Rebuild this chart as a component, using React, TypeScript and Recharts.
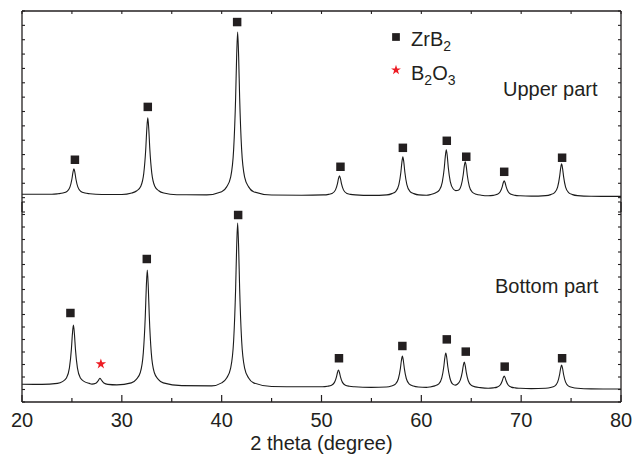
import { ComposedChart, Line, Scatter, XAxis, YAxis, ZAxis, Label, Symbols } from "recharts";

// 2θ positions (deg) and intensities (a.u.)
const UPPER_2THETA = [
  20, 22, 23, 23.6, 24.1, 24.5, 24.8, 25.0, 25.1, 25.2, 25.3, 25.4, 25.6, 25.9, 26.3, 26.8, 28, 30,
  31.0, 31.5, 31.9, 32.2, 32.4, 32.5, 32.6, 32.7, 32.8, 33.0, 33.3, 33.7, 34.2, 35.5, 38.5,
  40.0, 40.5, 40.9, 41.2, 41.4, 41.5, 41.6, 41.7, 41.8, 42.0, 42.3, 42.7, 43.2, 45, 48,
  50.2, 50.7, 51.1, 51.4, 51.6, 51.7, 51.8, 51.9, 52.0, 52.2, 52.5, 52.9, 53.4, 55,
  56.55, 57.05, 57.45, 57.75, 57.95, 58.05, 58.15, 58.25, 58.35, 58.55, 58.85, 59.25, 59.75, 60.5,
  60.9, 61.4, 61.8, 62.1, 62.3, 62.4, 62.5, 62.6, 62.7, 62.9, 63.2, 63.45, 63.7, 64.0, 64.2, 64.3,
  64.4, 64.5, 64.6, 64.8, 65.1, 65.5, 66.0,
  66.7, 67.2, 67.6, 67.9, 68.1, 68.2, 68.3, 68.4, 68.5, 68.7, 69.0, 69.4, 69.9, 71,
  72.45, 72.95, 73.35, 73.65, 73.85, 73.95, 74.05, 74.15, 74.25, 74.45, 74.75, 75.15, 75.65, 77, 80,
];
const UPPER_COUNTS = [
  124, 124, 123.5, 127, 132, 143, 173, 230, 274, 301, 274, 230, 173, 143, 132, 127, 122, 121.5,
  132, 148, 180, 271, 442, 576, 656, 576, 442, 271, 180, 148, 132, 120.5, 119.5,
  141, 175, 243, 436, 800, 1084, 1254, 1084, 800, 436, 243, 175, 141, 118, 117,
  119, 123, 131, 154, 198, 232, 252, 232, 198, 154, 131, 123, 119, 115.5,
  119, 128, 144, 190, 277, 344, 385, 344, 277, 190, 144, 128, 119, 117,
  121, 132, 152, 208, 308, 386, 433, 388, 310, 212, 160, 149, 151, 187, 261, 319,
  350, 318, 258, 181, 138, 124, 117,
  113, 116, 123, 141, 175, 202, 218, 202, 175, 141, 123, 116, 113, 110.5,
  114, 121, 135, 173, 246, 302, 336, 302, 246, 173, 135, 121, 114, 109.5, 108.5,
];

// lower pattern
const LOWER_2THETA = [
  20, 22, 23.55, 24.05, 24.45, 24.75, 24.95, 25.05, 25.15, 25.25, 25.35, 25.55, 25.85, 26.25, 26.75,
  27.0, 27.4, 27.65, 27.8, 27.95, 28.2, 28.6, 29.5,
  30.95, 31.45, 31.85, 32.15, 32.35, 32.45, 32.55, 32.65, 32.75, 32.95, 33.25, 33.65, 34.15, 36, 39,
  40.0, 40.5, 40.9, 41.2, 41.4, 41.5, 41.6, 41.7, 41.8, 42.0, 42.3, 42.7, 43.2, 45, 48,
  50.1, 50.6, 51.0, 51.3, 51.5, 51.6, 51.7, 51.8, 51.9, 52.1, 52.4, 52.8, 53.3, 55,
  56.5, 57.0, 57.4, 57.7, 57.9, 58.0, 58.1, 58.2, 58.3, 58.5, 58.8, 59.2, 59.7, 60.5,
  60.85, 61.35, 61.75, 62.05, 62.25, 62.35, 62.45, 62.55, 62.65, 62.85, 63.15, 63.4, 63.6, 63.9,
  64.1, 64.2, 64.3, 64.4, 64.5, 64.7, 65.0, 65.4, 65.9,
  66.7, 67.2, 67.6, 67.9, 68.1, 68.2, 68.3, 68.4, 68.5, 68.7, 69.0, 69.4, 69.9, 71,
  72.45, 72.95, 73.35, 73.65, 73.85, 73.95, 74.05, 74.15, 74.25, 74.45, 74.75, 75.15, 75.65, 77, 80,
];
const LOWER_COUNTS = [
  142, 141, 149, 163, 192, 273, 425, 545, 616, 545, 425, 273, 192, 163, 149,
  143, 150, 172, 190, 176, 152, 141, 137,
  153, 181, 236, 393, 688, 918, 1056, 918, 688, 393, 236, 181, 153, 131, 129,
  153, 192, 271, 492, 910, 1236, 1432, 1236, 910, 492, 271, 192, 153, 124, 121.5,
  122, 126, 134, 157, 201, 236, 256, 236, 201, 157, 134, 126, 122, 117,
  120, 128, 143, 186, 267, 330, 368, 330, 267, 186, 143, 128, 120, 117,
  120, 129, 145, 193, 282, 351, 392, 352, 284, 196, 143, 135, 142, 175,
  239, 289, 320, 289, 237, 170, 134, 121, 115,
  110, 113, 119, 136, 168, 193, 208, 193, 168, 136, 119, 113, 110, 107,
  110, 116, 127, 159, 220, 268, 296, 268, 220, 159, 127, 116, 110, 105, 104,
];

// phase markers (ZrB2 squares, B2O3 star)
const UPPER_ZRB2_2THETA = [25.3, 32.6, 41.55, 51.9, 58.15, 62.55, 64.5, 68.3, 74.1];
const UPPER_ZRB2_Y = [364, 732, 1323, 315, 447, 496, 385, 280, 378];
const LOWER_ZRB2_2THETA = [24.85, 32.5, 41.65, 51.75, 58.1, 62.55, 64.45, 68.35, 74.1];
const LOWER_ZRB2_Y = [712, 1144, 1496, 350, 448, 501, 403, 283, 350];
const LOWER_B2O3_2THETA = [27.9];
const LOWER_B2O3_Y = [304];

const X_TICKS = [20, 25, 30, 35, 40, 45, 50, 55, 60, 65, 70, 75, 80];
const UPPER_Y_TICKS = [0, 100, 200, 300, 400, 500, 600, 700, 800, 900, 1000, 1100, 1200, 1300, 1400];
const LOWER_Y_TICKS = [0, 100, 200, 300, 400, 500, 600, 700, 800, 900, 1000, 1100, 1200, 1300, 1400, 1500, 1600];

const zip = (xs: number[], ys: number[]) => xs.map((t, i) => ({ theta: t, I: ys[i] }));

const upperData = zip(UPPER_2THETA, UPPER_COUNTS);
const lowerData = zip(LOWER_2THETA, LOWER_COUNTS);
const upperMarks = zip(UPPER_ZRB2_2THETA, UPPER_ZRB2_Y);
const lowerMarks = zip(LOWER_ZRB2_2THETA, LOWER_ZRB2_Y);
const lowerStar = zip(LOWER_B2O3_2THETA, LOWER_B2O3_Y);

const INK = "#231f20";
const RED = "#ed1c24";
const FONT = "'Liberation Sans', Arial, Helvetica, sans-serif";

// inward tick mark, drawn from the axis line into the plot
const InTick = ({ dx, dy }: { dx: number; dy: number }) => (props: any) => {
  const { x, y } = props;
  return <line x1={x} y1={y} x2={x + dx} y2={y + dy} stroke={INK} strokeWidth={1.1} />;
};

function BottomTick(props: any) {
  const { x, y, payload } = props;
  const major = payload.value % 10 === 0;
  return (
    <g>
      <line x1={x} x2={x} y1={y} y2={y - (major ? 7 : 4)} stroke={INK} strokeWidth={1.2} />
      {major && (
        <text x={x} y={y + 11} dy="0.71em" textAnchor="middle" fontSize={20} fontFamily={FONT} fill={INK}>
          {payload.value}
        </text>
      )}
    </g>
  );
}

const axisCommon = {
  type: "number" as const,
  mirror: true,
  tickLine: false,
  tickSize: 0,
  tickMargin: 0,
  interval: 0 as const,
  allowDataOverflow: true,
  stroke: INK,
  strokeWidth: 1.3,
};

const leftTick = InTick({ dx: 3, dy: 0 });
const rightTick = InTick({ dx: -3, dy: 0 });
const topTick = InTick({ dx: 0, dy: 3 });

export default function App() {
  return (
    <div style={{ position: "absolute", left: 0, top: 0, width: 632, height: 458, background: "#fff" }}>
      <div style={{ position: "absolute", left: 0, top: 0 }}>
        <ComposedChart width={632} height={220} margin={{ top: 11, right: 11, left: 22, bottom: 8 }}>
          <XAxis
            xAxisId="x"
            dataKey="theta"
            orientation="top"
            domain={[20, 80]}
            ticks={X_TICKS}
            tick={topTick}
            {...axisCommon}
          />
          <YAxis yAxisId="l" orientation="left" domain={[0, 1400]} ticks={UPPER_Y_TICKS} tick={leftTick} {...axisCommon} />
          <YAxis yAxisId="r" orientation="right" domain={[0, 1400]} ticks={UPPER_Y_TICKS} tick={rightTick} {...axisCommon} />
          <ZAxis range={[72, 72]} />
          <Line
            xAxisId="x"
            yAxisId="l"
            data={upperData}
            dataKey="I"
            type="monotone"
            stroke="#1b1b1b"
            strokeWidth={1.1}
            dot={false}
            activeDot={false}
            isAnimationActive={false}
          />
          <Scatter
            xAxisId="x"
            yAxisId="l"
            data={upperMarks}
            dataKey="I"
            shape="square"
            fill={INK}
            isAnimationActive={false}
          />
        </ComposedChart>
      </div>
      <div style={{ position: "absolute", left: 0, top: 190 }}>
        <ComposedChart width={632} height={268} margin={{ top: 12, right: 11, left: 22, bottom: 2 }}>
          <XAxis
            xAxisId="x"
            dataKey="theta"
            type="number"
            domain={[20, 80]}
            ticks={X_TICKS}
            interval={0}
            height={54}
            tickLine={false}
            tickSize={0}
            tickMargin={0}
            tick={<BottomTick />}
            allowDataOverflow
            stroke={INK}
            strokeWidth={1.3}
          >
            <Label
              value="2 theta (degree)"
              position="insideBottom"
              offset={6}
              style={{ fontSize: 20, fontFamily: FONT, fill: INK }}
            />
          </XAxis>
          <YAxis yAxisId="l" orientation="left" domain={[0, 1600]} ticks={LOWER_Y_TICKS} tick={leftTick} {...axisCommon} />
          <YAxis yAxisId="r" orientation="right" domain={[0, 1600]} ticks={LOWER_Y_TICKS} tick={rightTick} {...axisCommon} />
          <ZAxis range={[72, 72]} />
          <ZAxis zAxisId="star" range={[34, 34]} />
          <Line
            xAxisId="x"
            yAxisId="l"
            data={lowerData}
            dataKey="I"
            type="monotone"
            stroke="#1b1b1b"
            strokeWidth={1.1}
            dot={false}
            activeDot={false}
            isAnimationActive={false}
          />
          <Scatter
            xAxisId="x"
            yAxisId="l"
            data={lowerMarks}
            dataKey="I"
            shape="square"
            fill={INK}
            isAnimationActive={false}
          />
          <Scatter
            xAxisId="x"
            yAxisId="l"
            zAxisId="star"
            data={lowerStar}
            dataKey="I"
            shape="star"
            fill={RED}
            isAnimationActive={false}
          />
        </ComposedChart>
      </div>
      <svg
        width={632}
        height={458}
        style={{ position: "absolute", left: 0, top: 0, pointerEvents: "none" }}
        fontFamily={FONT}
        fill={INK}
      >
        <Symbols cx={396} cy={37} type="square" size={60} fill={INK} />
        <text x={411} y={46} fontSize={20}>
          ZrB<tspan fontSize={14} dy={5}>2</tspan>
        </text>
        <Symbols cx={396} cy={70} type="star" size={30} fill={RED} />
        <text x={411} y={80} fontSize={20}>
          B<tspan fontSize={14} dy={5}>2</tspan>
          <tspan dy={-5}>O</tspan>
          <tspan fontSize={14} dy={5}>3</tspan>
        </text>
        <text x={503} y={96} fontSize={20}>Upper part</text>
        <text x={495} y={293} fontSize={20}>Bottom part</text>
      </svg>
    </div>
  );
}
